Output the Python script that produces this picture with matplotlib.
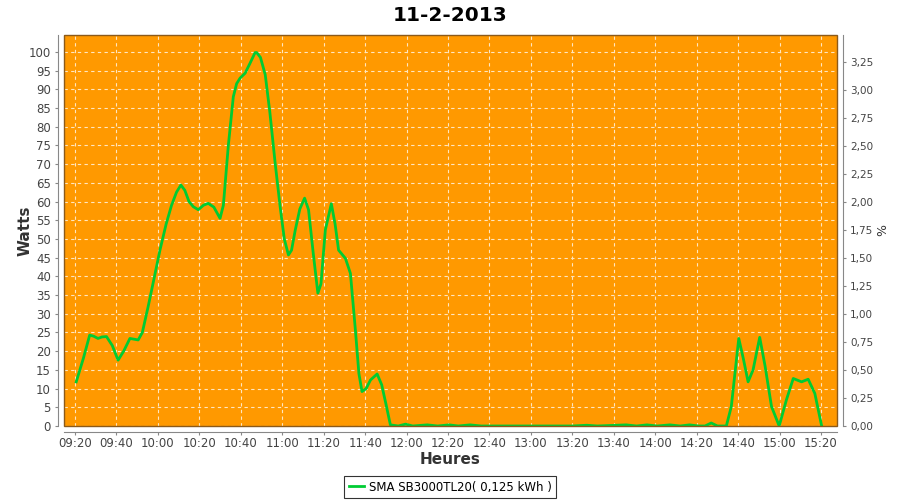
import matplotlib
matplotlib.use("Agg")
import matplotlib.pyplot as plt
from matplotlib.ticker import FuncFormatter, MultipleLocator
from matplotlib.patches import Rectangle

TITLE = "11-2-2013"
START_MIN = 9 * 60 + 20  # 09:20

# minutes after 09:20
minutes = [0.6, 4, 7.1, 9, 11.1, 13, 15.2, 18, 20.8, 23.5, 26.5, 30.5, 32.5, 35.3,
           38, 41, 44, 46.6, 49, 51.1, 53, 55, 57.1, 59.5, 62, 64.3, 67, 70, 71.6,
           74, 76.4, 78, 79.7, 82.1, 84.5, 86.9, 87.7, 89.5, 91.8, 94, 96.6, 99,
           101, 103, 104.5, 106.3, 108.5, 110.8, 112.7, 115, 117.2, 118.7, 120.8,
           123.7, 125.5, 127.2, 130.5, 132.9, 135.3, 137, 138.5, 140.5, 142.6,
           145.8, 148, 150, 152.2, 156, 159.5, 163, 170, 175, 180.5, 185, 190.6,
           196, 220, 240, 247, 252, 266, 271, 276, 281, 287, 292, 296.5, 301, 304,
           307, 310, 314.3, 316.7, 320.3, 322.5, 324.8, 327.2, 330.4, 333, 336.1,
           339.8, 343.3, 346.6, 350.6, 353.8, 357, 360.3]
watts = [11.8, 18, 24.3, 24, 23.4, 23.8, 23.9, 21.5, 17.6, 20, 23.4, 23, 25, 31.9,
         39, 47, 54, 59, 62.5, 64.4, 63, 60, 58.6, 57.8, 59, 59.5, 58.5, 55.5, 59,
         75, 88, 91.5, 93, 94.3, 97, 99.8, 99.8, 98.5, 93.9, 84, 70.2, 58.6,
         50, 45.7, 47, 52.4, 58, 60.9, 57.8, 46, 35.5, 38, 52.4,
         59.4, 54, 47, 44.8, 40.8, 25.7, 14, 9.2, 10, 12.3,
         13.9, 11, 6, 0.3, 0, 0.5, 0, 0.3, 0, 0.3, 0, 0.3,
         0, 0, 0, 0.2, 0, 0.3, 0, 0.3, 0, 0.3, 0, 0.3, 0, 0,
         0.8, 0, 0, 5.2, 23.4, 18, 11.8, 15, 23.7, 16, 5.2,
         0, 7, 12.7, 11.8, 12.5, 8.7, 0]

x_ticks = list(range(0, 361, 20))
legend_label = "SMA SB3000TL20( 0,125 kWh )"


def hhmm(v, pos=None):
    m = int(round(START_MIN + v))
    return "%02d:%02d" % (m // 60, m % 60)


fig = plt.figure(figsize=(9, 5), dpi=100)
ax = fig.add_axes([64 / 900, 74 / 500, 773 / 900, 391 / 500])
ax.set_facecolor("#FF9900")

line, = ax.plot(minutes, watts, color="#00CC33", lw=2, label=legend_label,
                solid_joinstyle="round")

ax.set_xlim(-5.3, 367.7)
ax.set_ylim(0, 104.5)
ax.set_xticks(x_ticks)
ax.xaxis.set_major_formatter(FuncFormatter(hhmm))
ax.yaxis.set_major_locator(MultipleLocator(5))
ax.grid(True, color="#FFE6C0", ls=(0, (3, 3)), lw=0.8)
ax.set_axisbelow(True)

for s in ["left", "bottom", "right"]:
    ax.spines[s].set_position(("outward", 4))
    ax.spines[s].set_color("#888888")
ax.spines["top"].set_visible(False)
ax.spines["right"].set_visible(False)
ax.add_patch(Rectangle((0, 0), 1, 1, transform=ax.transAxes, fill=False,
                       edgecolor="#8B5A1A", lw=1, zorder=5, clip_on=False))

ax.tick_params(labelsize=8.5, labelcolor="#444444", color="#888888", length=2)
ax.tick_params(axis="x", pad=2)
ax.set_xlabel("Heures", fontsize=11, color="#333333", fontweight="bold", labelpad=1)
ax.set_ylabel("Watts", fontsize=11, color="#333333", fontweight="bold", labelpad=-3)
ax.set_title(TITLE, fontsize=14.5, fontweight="bold", pad=10)

ax2 = ax.twinx()
ax2.set_ylim(0, 3.49)
ax2.yaxis.set_major_locator(MultipleLocator(0.25))
ax2.yaxis.set_major_formatter(FuncFormatter(lambda v, p: ("%.2f" % v).replace(".", ",")))
ax2.spines["right"].set_position(("outward", 4))
ax2.spines["right"].set_color("#888888")
for s in ["left", "top", "bottom"]:
    ax2.spines[s].set_visible(False)
ax2.tick_params(labelsize=7.5, labelcolor="#444444", color="#888888", length=2)
ax2.set_ylabel("%", fontsize=9, color="#333333", labelpad=2)

leg = fig.legend(handles=[line], loc="lower center", bbox_to_anchor=(0.5, 0.0),
                 fontsize=8.5, frameon=True, fancybox=False, handlelength=1.3,
                 handletextpad=0.4, borderpad=0.4, borderaxespad=0.15)
leg.get_frame().set_edgecolor("black")
leg.get_frame().set_linewidth(0.8)

fig.savefig("out.png", dpi=100)
